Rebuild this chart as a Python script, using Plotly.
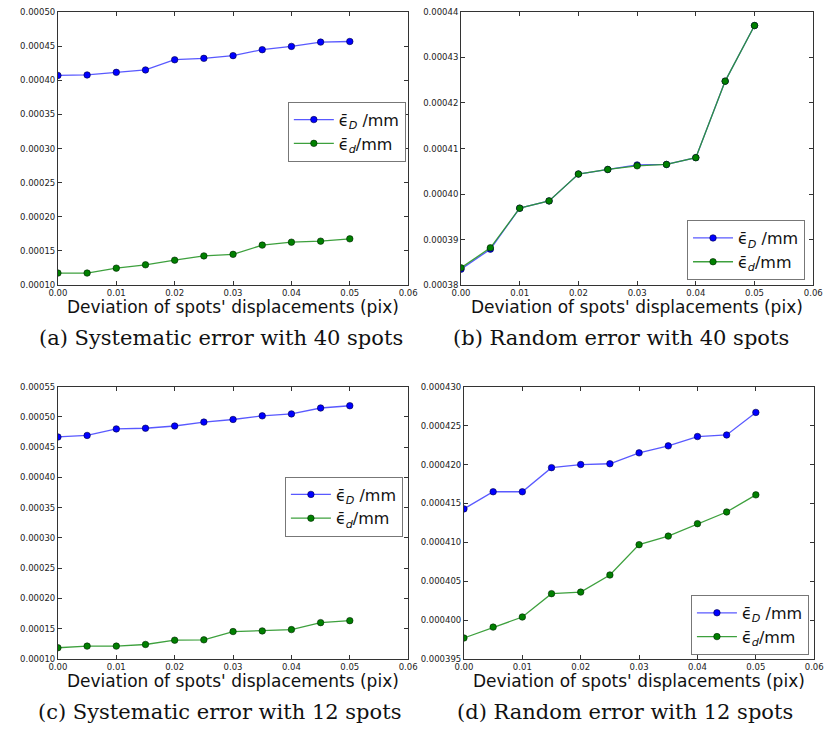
import plotly.graph_objects as go

# Deviation of spot displacements (pix)
deviation = [0.0, 0.005, 0.01, 0.015, 0.02, 0.025, 0.03, 0.035, 0.04, 0.045, 0.05]

# (a) systematic error, 40 spots
sys40_D = [0.0004070, 0.0004077, 0.0004115, 0.0004150, 0.0004300, 0.0004320,
           0.0004360, 0.0004447, 0.0004495, 0.0004558, 0.0004567]
sys40_d = [0.0001177, 0.0001177, 0.0001249, 0.0001298, 0.0001365, 0.0001428,
           0.0001451, 0.0001586, 0.0001629, 0.0001644, 0.0001678]

# (b) random error, 40 spots
rnd40_D = [0.0003835, 0.0003879, 0.0003969, 0.0003985, 0.0004044, 0.0004054,
           0.0004064, 0.0004065, 0.0004080, 0.0004248, 0.0004370]
rnd40_d = [0.0003838, 0.0003882, 0.0003969, 0.0003985, 0.0004044, 0.0004054,
           0.0004062, 0.0004065, 0.0004080, 0.0004248, 0.0004370]

# (c) systematic error, 12 spots
sys12_D = [0.0004670, 0.0004695, 0.0004803, 0.0004814, 0.0004851, 0.0004916,
           0.0004959, 0.0005019, 0.0005051, 0.0005149, 0.0005186]
sys12_d = [0.0001186, 0.0001213, 0.0001213, 0.0001240, 0.0001311, 0.0001317,
           0.0001454, 0.0001464, 0.0001486, 0.0001601, 0.0001634]

# (d) random error, 12 spots
rnd12_D = [0.0004143, 0.0004165, 0.0004165, 0.0004196, 0.0004200, 0.0004201,
           0.0004215, 0.0004224, 0.0004236, 0.0004238, 0.0004267]
rnd12_d = [0.0003977, 0.0003991, 0.0004004, 0.0004034, 0.0004036, 0.0004058,
           0.0004097, 0.0004108, 0.0004124, 0.0004139, 0.0004161]

captions = ["(a) Systematic error with 40 spots", "(b) Random error with 40 spots",
            "(c) Systematic error with 12 spots", "(d) Random error with 12 spots"]
x_title = "Deviation of spots' displacements (pix)"
label_D = "\u03f5\u0304<sub><i>D</i></sub> /mm"
label_d = "\u03f5\u0304<sub><i>d</i></sub>/mm"

W, H = 833, 737

# panel boxes in pixels: left, right, top, bottom
panels = [
    dict(D=sys40_D, d=sys40_d, box=(50, 408, 7, 284), yr=(0.0001, 0.0005), dt=0.00005, fmt=".5f",
         leg=(285, 98)),
    dict(D=rnd40_D, d=rnd40_d, box=(462, 822, 7, 284), yr=(0.00038, 0.00044), dt=0.00001, fmt=".5f",
         leg=(693, 218)),
    dict(D=sys12_D, d=sys12_d, box=(50, 408, 387, 663), yr=(0.0001, 0.00055), dt=0.00005, fmt=".5f",
         leg=(282, 478)),
    dict(D=rnd12_D, d=rnd12_d, box=(465, 823, 387, 663), yr=(0.000395, 0.00043), dt=0.000005, fmt=".6f",
         leg=(697, 598)),
]

BLUE_LINE = "rgba(60,60,255,0.85)"
GREEN_LINE = "rgba(40,150,40,0.9)"

fig = go.Figure()
layout = dict(width=W, height=H, margin=dict(l=0, r=0, t=0, b=0),
              paper_bgcolor="white", plot_bgcolor="white", showlegend=True,
              annotations=[])

tick_font = dict(family="DejaVu Sans", size=8.5, color="#222")

for i, p in enumerate(panels):
    n = "" if i == 0 else str(i + 1)
    xa, ya = "x" + n, "y" + n
    leg = "legend" + n
    l, r, t, b = p["box"]
    fig.add_trace(go.Scatter(
        x=deviation, y=p["D"], mode="lines+markers", name=label_D,
        xaxis=xa, yaxis=ya, legend=leg,
        line=dict(color=BLUE_LINE, width=1.3),
        marker=dict(color="#0000ff", size=6.5, line=dict(color="#000040", width=0.6))))
    fig.add_trace(go.Scatter(
        x=deviation, y=p["d"], mode="lines+markers", name=label_d,
        xaxis=xa, yaxis=ya, legend=leg,
        line=dict(color=GREEN_LINE, width=1.3),
        marker=dict(color="#008000", size=6.5, line=dict(color="#002000", width=0.6))))

    axis_common = dict(showgrid=False, zeroline=False, showline=True, linecolor="#333",
                       linewidth=1, mirror="allticks", ticks="inside", ticklen=4,
                       tickcolor="#333", tickfont=tick_font)
    layout["xaxis" + n] = dict(axis_common, domain=[l / W, r / W], anchor=ya,
                               range=[0, 0.06], dtick=0.01, tick0=0, tickformat=".2f")
    layout["yaxis" + n] = dict(axis_common, domain=[1 - b / H, 1 - t / H], anchor=xa,
                               range=list(p["yr"]), dtick=p["dt"], tick0=p["yr"][0],
                               tickformat=p["fmt"])
    lx, ly = p["leg"]
    layout[leg] = dict(x=lx / W, y=1 - ly / H, xanchor="left", yanchor="top",
                       bgcolor="white", bordercolor="#777", borderwidth=1,
                       font=dict(family="DejaVu Sans", size=16, color="#111"),
                       itemwidth=40)

    cx = (l + r) / 2
    layout["annotations"].append(dict(
        text=x_title, x=cx / W, y=1 - (b + 22) / H, xref="paper", yref="paper",
        xanchor="center", yanchor="middle", showarrow=False,
        font=dict(family="DejaVu Sans", size=17, color="#111")))
    cap_cx = [217, 626, 215, 630][i]
    layout["annotations"].append(dict(
        text=captions[i], x=cap_cx / W, y=1 - (b + 54) / H, xref="paper", yref="paper",
        xanchor="center", yanchor="middle", showarrow=False,
        font=dict(family="DejaVu Serif", size=21, color="#111")))

fig.update_layout(**layout)
fig.write_html("out.html")
